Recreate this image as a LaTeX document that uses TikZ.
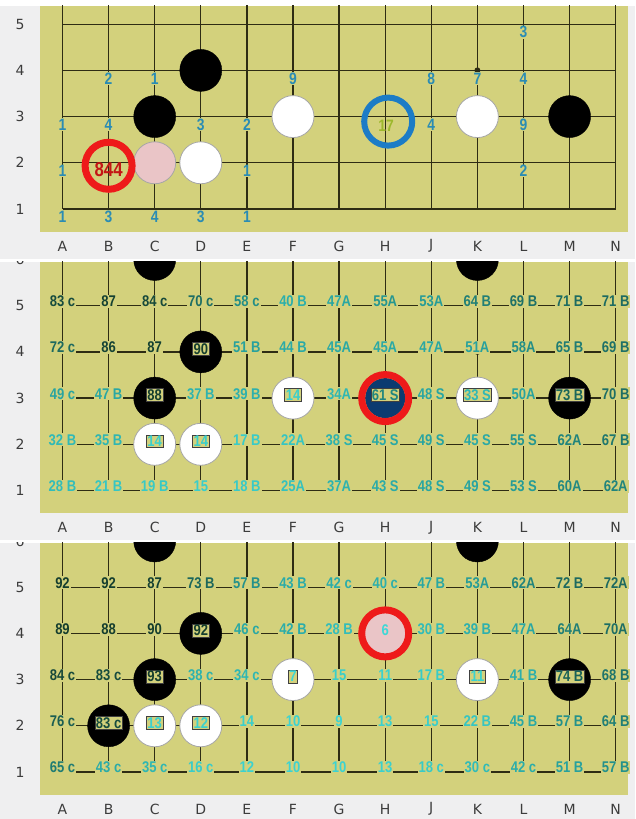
\documentclass[tikz,border=0pt]{standalone}
\usepackage{fontspec}
\setmainfont{DejaVu Sans}
\newfontfamily\lblfont[FakeStretch=0.84]{Liberation Sans}
\definecolor{board}{HTML}{D3D17C}
\definecolor{bggray}{HTML}{EFEFF0}
\definecolor{gridc}{HTML}{2E2C14}
\definecolor{clow}{HTML}{3ED8D6}
\definecolor{cmid}{HTML}{27A39F}
\definecolor{chigh}{HTML}{153E2E}
\definecolor{plab}{HTML}{2A8CB4}
\definecolor{ringred}{HTML}{EE1A1A}
\definecolor{ringblue}{HTML}{1C7CC6}
\definecolor{navy}{HTML}{0C3B70}
\definecolor{pinkstone}{HTML}{EAC5C7}
\definecolor{darkred}{HTML}{C41515}
\definecolor{ygreen}{HTML}{9DB82C}
\definecolor{axis}{HTML}{3C3C3C}
\newcommand\lf{\lblfont\bfseries\fontsize{15.5}{15.5}\selectfont}
\newcommand\lfp{\lblfont\bfseries\fontsize{16.5}{16.5}\selectfont}
\newcommand\labcol[1]{%
  \ifnum#1<50\relax
    \pgfmathtruncatemacro\pc{max(0,min(100,100*(#1-6)/44))}%
    \colorlet{lc}{cmid!\pc!clow}%
  \else
    \pgfmathtruncatemacro\pc{max(0,min(100,100*(#1-50)/38))}%
    \colorlet{lc}{chigh!\pc!cmid}%
  \fi}
\newcommand\gl[4]{\labcol{#3}\node[lbl,text=lc] (L\pn-#1-#2) at (#1,#2) {#3#4};}
\newcommand\bl[4]{\labcol{#3}\node[boxlbl,text=lc] (B\pn-#1-#2) at (#1,#2) {#3#4};}
\newcommand\st[3]{\node[#1] (S\pn-#2-#3) at (#2,#3) {};}
\newcommand\ol[3]{\node[plbl] (L1-#1-#2) at (#1,#2) {#3};}
\newcommand\axes[1]{%
  \foreach \r in {1,...,#1} \node[axislbl, xshift=-42.5pt] (R\pn-\r) at (1,\r) {\r};
  \foreach \c [count=\i] in {A,B,C,D,E,F,G,H,J,K,L,M,N} \node[axislbl, yshift=-37pt] (C\pn-\c) at (\i,1) {\c};
  \foreach \i in {1,...,13} \draw[gridline] (\i,1) -- (\i,7);
  \foreach \r in {1,...,5} \draw[gridline] (1,\r) -- (13,\r);
  \fill[gridc] (10,4) circle (3pt);}
\tikzset{
  gridline/.style={draw=gridc, line width=1.3pt},
  lbl/.style={font=\lf, fill=board, inner sep=1pt, anchor=base, yshift=-1pt},
  boxlbl/.style={font=\lf, fill=board, draw=black!75, line width=0.6pt, inner sep=1pt, yshift=3pt},
  plbl/.style={font=\lfp, text=plab, inner sep=0.5pt, fill=board, yshift=-8pt},
  bstone/.style={circle, fill=black, draw=black, minimum size=42pt, inner sep=0pt},
  wstone/.style={circle, fill=white, draw=black!35, line width=0.8pt, minimum size=42pt, inner sep=0pt},
  pstone/.style={circle, fill=pinkstone, draw=black!35, line width=0.8pt, minimum size=42pt, inner sep=0pt},
  nstone/.style={circle, fill=navy, minimum size=40pt, inner sep=0pt},
  ring/.style={circle, draw=#1, line width=7pt, minimum size=47pt, inner sep=0pt},
  axislbl/.style={font=\fontsize{14}{14}\selectfont, text=axis, inner sep=0pt},
}
\begin{document}
\begin{tikzpicture}[x=1pt,y=1pt]
\useasboundingbox (0,0) rectangle (635,819);
\fill[white] (0,0) rectangle (635,819);
% ---------------- panel 1
\begin{scope}
 \clip (0,560) rectangle (635,813);
 \fill[bggray] (0,560) rectangle (635,813);
 \fill[board] (40,587) rectangle (628,813);
 \begin{scope}[shift={(16.4pt,563.8pt)}, x=46.1pt, y=46.2pt]
  \def\pn{1}
  \axes{5}
  \ol{2}{4}{2}\ol{3}{4}{1}\ol{6}{4}{9}\ol{9}{4}{8}\ol{10}{4}{7}\ol{11}{4}{4}\ol{11}{5}{3}
  \ol{1}{3}{1}\ol{2}{3}{4}\ol{4}{3}{3}\ol{5}{3}{2}\ol{9}{3}{4}\ol{11}{3}{9}
  \ol{1}{2}{1}\ol{5}{2}{1}\ol{11}{2}{2}
  \ol{1}{1}{1}\ol{2}{1}{3}\ol{3}{1}{4}\ol{4}{1}{3}\ol{5}{1}{1}
  \st{bstone}{4}{4}\st{bstone}{3}{3}\st{pstone}{3}{2}\st{wstone}{4}{2}
  \st{wstone}{6}{3}\st{wstone}{10}{3}\st{bstone}{12}{3}
  \node[ring=ringred, yshift=-3pt] (ringB2) at (2,2) {};
  \node[font=\lblfont\bfseries\fontsize{20}{20}\selectfont, text=darkred, inner sep=0pt, yshift=-7pt] (t844) at (2,2) {844};
  \node[ring=ringblue, line width=6pt, minimum size=48pt, xshift=3pt, yshift=-5pt] (ringH3) at (8,3) {};
  \node[font=\lfp, text=ygreen, inner sep=0pt, xshift=1pt, yshift=-9pt] (t17) at (8,3) {17};
 \end{scope}
\end{scope}
% ---------------- panel 2
\begin{scope}
 \clip (0,279) rectangle (635,557);
 \fill[bggray] (0,279) rectangle (635,557);
 \fill[board] (40,306) rectangle (628,557);
 \begin{scope}[shift={(16.4pt,282.3pt)}, x=46.1pt, y=46.2pt]
  \def\pn{2}
  \axes{6}
  \gl{1}{5}{83}{ c}\gl{2}{5}{87}{}\gl{3}{5}{84}{ c}\gl{4}{5}{70}{ c}\gl{5}{5}{58}{ c}\gl{6}{5}{40}{ B}\gl{7}{5}{47}{A}\gl{8}{5}{55}{A}\gl{9}{5}{53}{A}\gl{10}{5}{64}{ B}\gl{11}{5}{69}{ B}\gl{12}{5}{71}{ B}\gl{13}{5}{71}{ B}
  \gl{1}{4}{72}{ c}\gl{2}{4}{86}{}\gl{3}{4}{87}{}\gl{5}{4}{51}{ B}\gl{6}{4}{44}{ B}\gl{7}{4}{45}{A}\gl{8}{4}{45}{A}\gl{9}{4}{47}{A}\gl{10}{4}{51}{A}\gl{11}{4}{58}{A}\gl{12}{4}{65}{ B}\gl{13}{4}{69}{ B}
  \gl{1}{3}{49}{ c}\gl{2}{3}{47}{ B}\gl{4}{3}{37}{ B}\gl{5}{3}{39}{ B}\gl{7}{3}{34}{A}\gl{9}{3}{48}{ S}\gl{11}{3}{50}{A}\gl{13}{3}{70}{ B}
  \gl{1}{2}{32}{ B}\gl{2}{2}{35}{ B}\gl{5}{2}{17}{ B}\gl{6}{2}{22}{A}\gl{7}{2}{38}{ S}\gl{8}{2}{45}{ S}\gl{9}{2}{49}{ S}\gl{10}{2}{45}{ S}\gl{11}{2}{55}{ S}\gl{12}{2}{62}{A}\gl{13}{2}{67}{ B}
  \gl{1}{1}{28}{ B}\gl{2}{1}{21}{ B}\gl{3}{1}{19}{ B}\gl{4}{1}{15}{}\gl{5}{1}{18}{ B}\gl{6}{1}{25}{A}\gl{7}{1}{37}{A}\gl{8}{1}{43}{ S}\gl{9}{1}{48}{ S}\gl{10}{1}{49}{ S}\gl{11}{1}{53}{ S}\gl{12}{1}{60}{A}\gl{13}{1}{62}{A}
  \st{bstone}{3}{6}\st{bstone}{10}{6}\st{bstone}{4}{4}\st{bstone}{3}{3}\st{wstone}{6}{3}\st{nstone}{8}{3}\st{wstone}{10}{3}\st{bstone}{12}{3}\st{wstone}{3}{2}\st{wstone}{4}{2}
  \node[ring=ringred] (ringH3b) at (8,3) {};
  \bl{4}{4}{90}{}\bl{3}{3}{88}{}\bl{6}{3}{14}{}\bl{8}{3}{61}{ S}\bl{10}{3}{33}{ S}\bl{12}{3}{73}{ B}\bl{3}{2}{14}{}\bl{4}{2}{14}{}
 \end{scope}
\end{scope}
% ---------------- panel 3
\begin{scope}
 \clip (0,0) rectangle (635,276);
 \fill[bggray] (0,0) rectangle (635,276);
 \fill[board] (40,24) rectangle (628,276);
 \begin{scope}[shift={(16.4pt,0.8pt)}, x=46.1pt, y=46.2pt]
  \def\pn{3}
  \axes{6}
  \gl{1}{5}{92}{}\gl{2}{5}{92}{}\gl{3}{5}{87}{}\gl{4}{5}{73}{ B}\gl{5}{5}{57}{ B}\gl{6}{5}{43}{ B}\gl{7}{5}{42}{ c}\gl{8}{5}{40}{ c}\gl{9}{5}{47}{ B}\gl{10}{5}{53}{A}\gl{11}{5}{62}{A}\gl{12}{5}{72}{ B}\gl{13}{5}{72}{A}
  \gl{1}{4}{89}{}\gl{2}{4}{88}{}\gl{3}{4}{90}{}\gl{5}{4}{46}{ c}\gl{6}{4}{42}{ B}\gl{7}{4}{28}{ B}\gl{9}{4}{30}{ B}\gl{10}{4}{39}{ B}\gl{11}{4}{47}{A}\gl{12}{4}{64}{A}\gl{13}{4}{70}{A}
  \gl{1}{3}{84}{ c}\gl{2}{3}{83}{ c}\gl{4}{3}{38}{ c}\gl{5}{3}{34}{ c}\gl{7}{3}{15}{}\gl{8}{3}{11}{}\gl{9}{3}{17}{ B}\gl{11}{3}{41}{ B}\gl{13}{3}{68}{ B}
  \gl{1}{2}{76}{ c}\gl{5}{2}{14}{}\gl{6}{2}{10}{}\gl{7}{2}{9}{}\gl{8}{2}{13}{}\gl{9}{2}{15}{}\gl{10}{2}{22}{ B}\gl{11}{2}{45}{ B}\gl{12}{2}{57}{ B}\gl{13}{2}{64}{ B}
  \gl{1}{1}{65}{ c}\gl{2}{1}{43}{ c}\gl{3}{1}{35}{ c}\gl{4}{1}{16}{ c}\gl{5}{1}{12}{}\gl{6}{1}{10}{}\gl{7}{1}{10}{}\gl{8}{1}{13}{}\gl{9}{1}{18}{ c}\gl{10}{1}{30}{ c}\gl{11}{1}{42}{ c}\gl{12}{1}{51}{ B}\gl{13}{1}{57}{ B}
  \st{bstone}{3}{6}\st{bstone}{10}{6}\st{bstone}{4}{4}\st{pstone}{8}{4}\st{bstone}{3}{3}\st{wstone}{6}{3}\st{wstone}{10}{3}\st{bstone}{12}{3}\st{bstone}{2}{2}\st{wstone}{3}{2}\st{wstone}{4}{2}
  \node[ring=ringred] (ringH4) at (8,4) {};
  \bl{4}{4}{92}{}\bl{3}{3}{93}{}\bl{6}{3}{7}{}\bl{10}{3}{11}{}\bl{12}{3}{74}{ B}\bl{2}{2}{83}{ c}\bl{3}{2}{13}{}\bl{4}{2}{12}{}
  \labcol{6}\node[font=\lf, text=lc, inner sep=0pt, yshift=3pt] (L3-8-4) at (8,4) {6};
 \end{scope}
\end{scope}
\end{tikzpicture}
\end{document}
